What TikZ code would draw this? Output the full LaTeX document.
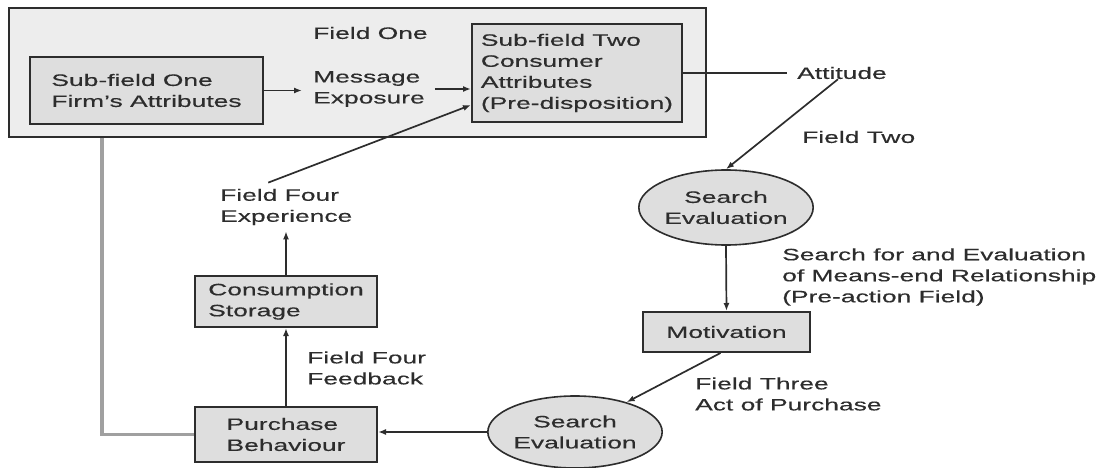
\documentclass[tikz,border=0pt]{standalone}
\usepackage{fontspec}
\setmainfont[FakeStretch=1.6,FakeBold=0.4]{Liberation Sans}
\usetikzlibrary{arrows.meta,calc,shapes.geometric}

\definecolor{inkgray}{RGB}{45,45,45}
\definecolor{boxgray}{RGB}{222,222,222}
\definecolor{fieldgray}{RGB}{237,237,237}
\definecolor{linkgray}{RGB}{160,160,160}

\tikzset{
	fieldbox/.style={rectangle, draw=inkgray, line width=2pt, fill=fieldgray, inner sep=0pt},
	subbox/.style={rectangle, draw=inkgray, line width=2pt, fill=boxgray, inner sep=0pt, align=left},
	evalnode/.style={ellipse, draw=inkgray, line width=1.6pt, fill=boxgray, inner sep=0pt, align=center},
	lbl/.style={anchor=west, inner sep=0pt, align=left},
	flow/.style={draw=inkgray, line width=1.7pt, -{Latex[length=8pt,width=6pt]}},
	plain/.style={draw=inkgray, line width=1.6pt},
	link/.style={draw=linkgray, line width=3.2pt}
}

\begin{document}
\begin{tikzpicture}[x=1pt, y=-1pt, every node/.style={font=\fontsize{16.5}{21}\selectfont, text=inkgray}]

	\useasboundingbox (0,0) rectangle (1101,468);

	\node 	(field1)	at	(357.5,72.5)	[fieldbox, minimum width=697pt, minimum height=129pt]{};

	\node 	(sf1)		at	(146.5,90.5)	[subbox, minimum width=233pt, minimum height=67pt]{Sub-field One\\Firm's Attributes};
	\node 	(fieldone)	at	(313,33)	[lbl]{Field One};
	\node 	(msg)		at	(313,89)	[lbl]{Message\\Exposure};
	\node 	(sf2)		at	(577,73)	[subbox, minimum width=210pt, minimum height=98pt]{Sub-field Two\\Consumer\\Attributes\\(Pre-disposition)};

	\node 	(attitude)	at	(797,73)	[lbl]{Attitude};
	\node 	(fieldtwo)	at	(802,137)	[lbl]{Field Two};
	\node 	(se1)		at	(726,207.5)	[evalnode, minimum width=168pt, minimum height=75pt]{Search\\Evaluation};
	\node 	(meansend)	at	(782,277)	[lbl]{Search for and Evaluation\\of Means-end Relationship\\(Pre-action Field)};
	\node 	(mot)		at	(726.5,332)	[subbox, minimum width=167pt, minimum height=40pt]{Motivation};
	\node 	(fieldthree)	at	(695,394)	[lbl]{Field Three\\Act of Purchase};
	\node 	(se2)		at	(575,432)	[evalnode, minimum width=166pt, minimum height=72pt]{Search\\Evaluation};

	\node 	(purch)		at	(286,434.5)	[subbox, minimum width=182pt, minimum height=55pt]{Purchase\\Behaviour};
	\node 	(feedback)	at	(307,368)	[lbl]{Field Four\\Feedback};
	\node 	(cons)		at	(286,301.5)	[subbox, minimum width=182pt, minimum height=51pt]{Consumption\\Storage};
	\node 	(exper)		at	(220,207)	[lbl]{Field Four\\Experience};

%	field one
	\draw[flow, shorten >=11pt]	(sf1.east)	--	(sf1.east -| msg.west);
	\draw[flow, shorten <=10pt]	(msg.east)	--	(msg.east -| sf2.west);

%	fields two and three
	\draw[plain, shorten >=10pt]	(sf2.east)	--	(sf2.east -| attitude.west);
	\draw[flow]	($(attitude.south)+(-4,0)$)	--	(se1.north);
	\draw[flow]	(se1.south)	--	(mot.north);
	\draw[flow]	($(mot.south)+(-6,0)$)	--	(se2.30);
	\draw[flow]	(se2.west)	--	(se2.west -| purch.east);

%	field four
	\draw[flow]	(purch.north)	--	(cons.south);
	\draw[flow, shorten >=6pt]	(cons.north)	--	(cons.north |- exper.south);
	\draw[flow]	($(exper.north)+(-18,-6)$)	--	($(sf2.south west)+(0,-18)$);
	\draw[link]	(purch.west)	-|	($(field1.south west)+(94,0)$);

\end{tikzpicture}
\end{document}
